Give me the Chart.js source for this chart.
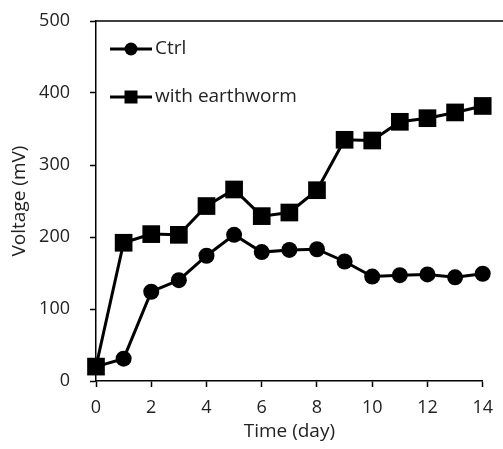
<!DOCTYPE html>
<html>
<head>
<meta charset="utf-8">
<script src="https://cdn.jsdelivr.net/npm/chart.js@4.4.1/dist/chart.umd.min.js"></script>
<style>
  html, body { margin: 0; padding: 0; background: #fff; }
  #wrap { width: 503px; height: 449px; position: relative; }
</style>
</head>
<body>
<div id="wrap"><canvas id="c" width="503" height="449"></canvas></div>
<script>
const days = [0, 1, 2, 3, 4, 5, 6, 7, 8, 9, 10, 11, 12, 13, 14];
const ctrl = [20, 31, 124, 140, 174, 203, 179, 182, 183, 166, 145, 147, 148, 144, 149];
const earthworm = [20, 192, 204, 203, 243, 266, 229, 234, 265, 335, 334, 360, 365, 373, 382];
const seriesNames = ['Ctrl', 'with earthworm'];
const xTitle = 'Time (day)';
const yTitle = 'Voltage (mV)';

const FONT = '"Open Sans", "Noto Sans", sans-serif';
const TEXT = '#222';

const legendPlugin = {
  id: 'insideLegend',
  afterDraw(chart) {
    const ctx = chart.ctx;
    const a = chart.chartArea;
    ctx.save();
    // top border of plot box
    ctx.strokeStyle = '#000';
    ctx.lineWidth = 1.5;
    ctx.beginPath();
    ctx.moveTo(a.left, a.top);
    ctx.lineTo(chart.width, a.top);
    ctx.stroke();

    const items = [
      { name: seriesNames[0], style: 'circle', dy: 28 },
      { name: seriesNames[1], style: 'rect', dy: 76 }
    ];
    items.forEach(it => {
      const y = a.top + it.dy;
      ctx.strokeStyle = '#000';
      ctx.lineWidth = 3;
      ctx.beginPath();
      ctx.moveTo(a.left + 14, y);
      ctx.lineTo(a.left + 56, y);
      ctx.stroke();
      ctx.fillStyle = '#000';
      const cx = a.left + 35;
      if (it.style === 'circle') {
        ctx.beginPath();
        ctx.arc(cx, y, 6.5, 0, Math.PI * 2);
        ctx.fill();
      } else {
        ctx.fillRect(cx - 6.5, y - 6.5, 13, 13);
      }
      ctx.fillStyle = TEXT;
      ctx.font = '19px ' + FONT;
      ctx.textBaseline = 'middle';
      ctx.textAlign = 'left';
      ctx.fillText(it.name, a.left + 59, y);
    });
    ctx.restore();
  }
};

new Chart(document.getElementById('c'), {
  type: 'line',
  data: {
    datasets: [
      {
        label: seriesNames[1],
        data: days.map((d, i) => ({ x: d, y: earthworm[i] })),
        borderColor: '#000',
        backgroundColor: '#000',
        borderWidth: 3,
        pointStyle: 'rect',
        pointRadius: 12.5,
        pointHoverRadius: 12.5,
        pointBorderWidth: 0,
        tension: 0,
        clip: false
      },
      {
        label: seriesNames[0],
        data: days.map((d, i) => ({ x: d, y: ctrl[i] })),
        borderColor: '#000',
        backgroundColor: '#000',
        borderWidth: 3,
        pointStyle: 'circle',
        pointRadius: 8,
        pointHoverRadius: 8,
        pointBorderWidth: 0,
        tension: 0,
        clip: false
      }
    ]
  },
  options: {
    responsive: false,
    animation: false,
    events: [],
    layout: { padding: { top: 21, right: 13, left: 0, bottom: 0 } },
    plugins: { legend: { display: false }, tooltip: { enabled: false } },
    scales: {
      x: {
        type: 'linear',
        min: 0, max: 14,
        afterFit(s) { s.height = 68; },
        ticks: { stepSize: 2, color: TEXT, font: { family: FONT, size: 18 }, padding: 10 },
        grid: { drawOnChartArea: false, color: '#000', tickLength: 6, tickWidth: 1.5 },
        border: { color: '#000', width: 1.5 },
        title: { display: true, text: xTitle, color: TEXT, font: { family: FONT, size: 19 }, padding: { top: 0, bottom: 6 } }
      },
      y: {
        min: 0, max: 500,
        afterFit(s) { s.width = 96; s.paddingTop = 0; s.paddingBottom = 0; },
        ticks: { stepSize: 100, color: TEXT, font: { family: FONT, size: 18 }, padding: 20 },
        grid: { drawOnChartArea: false, color: '#000', tickLength: 6, tickWidth: 1.5 },
        border: { color: '#000', width: 1.5 },
        title: { display: true, text: yTitle, color: TEXT, font: { family: FONT, size: 19 }, padding: { top: 8, bottom: 4 } }
      }
    }
  },
  plugins: [legendPlugin]
});
</script>
</body>
</html>
